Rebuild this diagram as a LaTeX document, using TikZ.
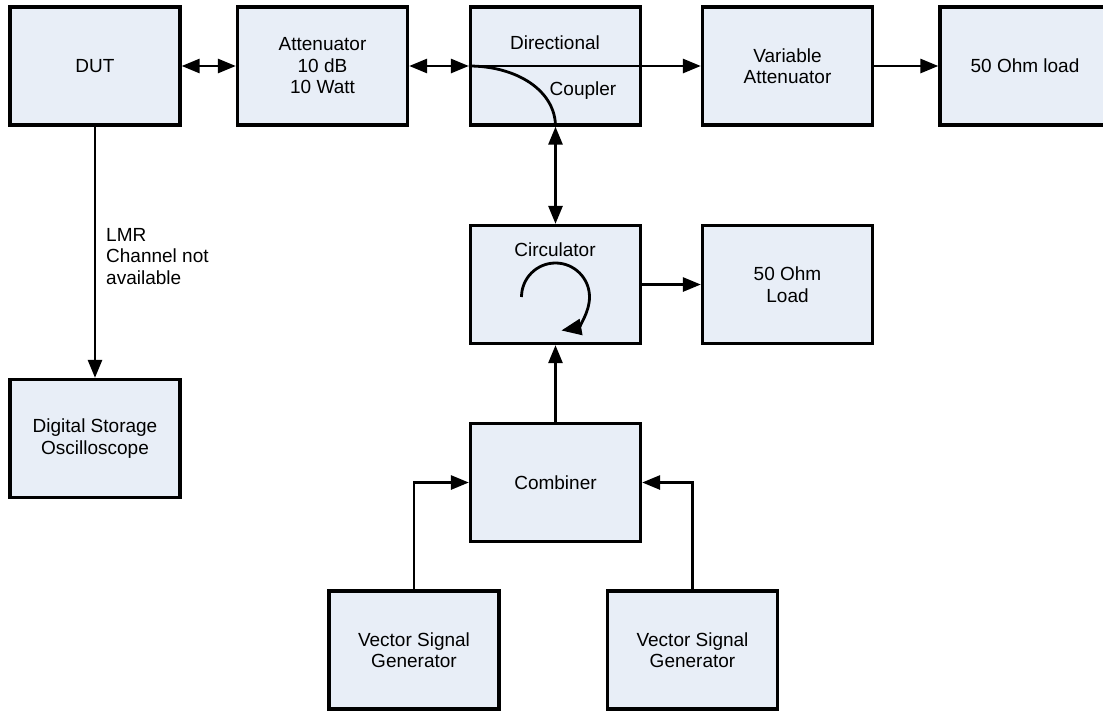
\documentclass[tikz,border=0pt]{standalone}
\usepackage{fontspec}
\setmainfont{Liberation Sans}
\usetikzlibrary{arrows.meta}
\definecolor{boxfill}{HTML}{E8EEF7}
\begin{document}
\begin{tikzpicture}[x=1pt,y=-1pt,
  txt/.style={font=\fontsize{19}{21.5}\selectfont},
  box/.style={txt, draw=black, line width=3.3pt, fill=boxfill, minimum width=170pt,
    minimum height=118pt, inner sep=0pt, align=center},
  conn/.style={line width=2.8pt, -{Triangle[length=18pt,width=14pt]}},
  dconn/.style={line width=2.8pt, {Triangle[length=18pt,width=14pt]}-{Triangle[length=18pt,width=14pt]}},
  plain/.style={line width=2.8pt}]
\useasboundingbox (0,0) rectangle (1103,710);
\clip (0,0) rectangle (1103,710);
\fill[white] (0,0) rectangle (1103,710);
% boxes
\node[box] (dut)  at (95,66)    {DUT};
\node[box] (att)  at (322.5,66) {Attenuator\\10 dB\\10 Watt};
\node[box] (cpl)  at (555.5,66) {};
\node[box] (vatt) at (787.5,66) {Variable\\Attenuator};
\node[box] (load1) at (1025,66) {50 Ohm load};
\node[box] (circ) at (555.5,284.5) {};
\node[box] (load2) at (787.5,284.5) {50 Ohm\\Load};
\node[box] (dso)  at (95,438.5) {Digital Storage\\Oscilloscope};
\node[box] (comb) at (555.5,482.5) {Combiner};
\node[box] (vsg1) at (414,650) {Vector Signal\\Generator};
\node[box] (vsg2) at (692.5,650) {Vector Signal\\Generator};
% inner texts
\node[txt, inner sep=0pt] (dirtxt) at (555,43) {Directional};
\node[txt, inner sep=0pt] (cpltxt) at (583,91) {Coupler};
\node[txt, inner sep=0pt] (circtxt) at (555,250) {Circulator};
\node[txt, inner sep=0pt, anchor=north west, align=left] (lmr) at (106,228) {LMR\\Channel not\\available};
% connectors
\draw[dconn] (dut.east) -- (att.west);
\draw[dconn] (att.east) -- (cpl.west);
\draw[conn] (cpl.west) -- (vatt.west);
\draw[plain] (cpl.west) .. controls +(48,0) and +(0,-36) .. (cpl.south);
\draw[conn] (vatt.east) -- (load1.west);
\draw[dconn] (cpl.south) -- (circ.north);
\draw[conn] (circ.east) -- (load2.west);
\draw[conn] (comb.north) -- (circ.south);
\draw[conn] (vsg1.north) |- (comb.west);
\draw[conn] (vsg2.north) |- (comb.east);
\draw[conn] (dut.south) -- (dso.north);
% circulator symbol
\draw[line width=2.8pt, -{Triangle[length=20pt,width=16pt]}]
  ([shift={(-34,12.5)}]circ.center) arc[start angle=180, end angle=440, radius=34];
\end{tikzpicture}
\end{document}
